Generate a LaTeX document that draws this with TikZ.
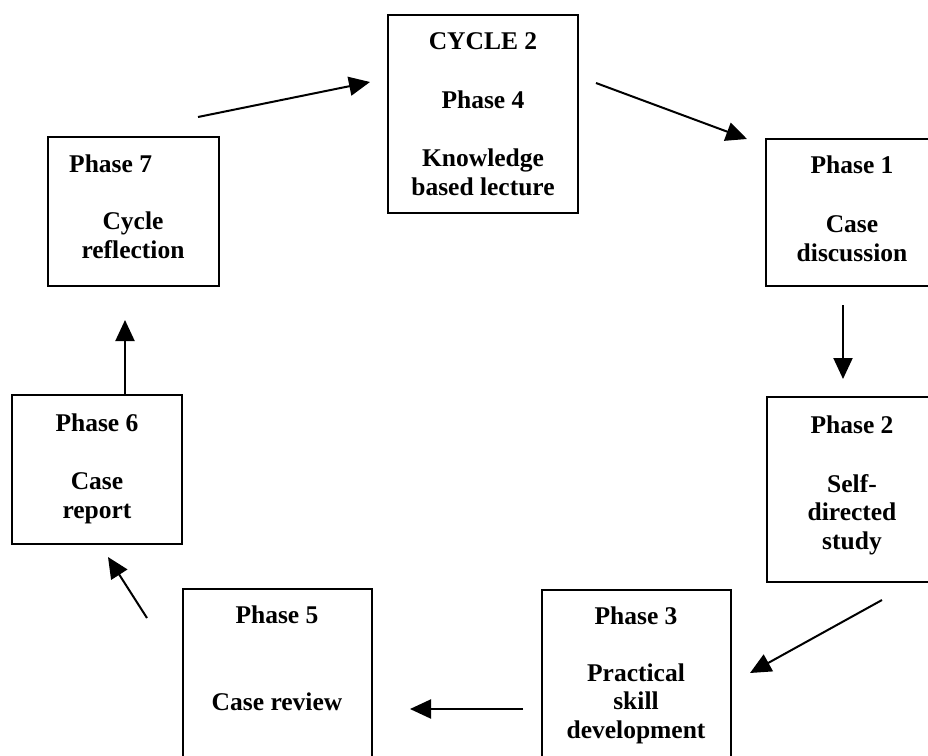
\documentclass[tikz,border=0pt]{standalone}
\usepackage{fontspec}
\setmainfont{Liberation Serif}
\usetikzlibrary{arrows.meta}
\begin{document}
\begin{tikzpicture}[x=1pt,y=-1pt,
  phasebox/.style={draw, line width=1.8pt, inner sep=0pt},
  phasetext/.style={font=\bfseries\fontsize{25.5}{28.5}\selectfont, align=center, anchor=base, inner sep=0pt},
  flow/.style={line width=2pt, -{Triangle[length=21pt,width=19pt]}}]
\useasboundingbox (0,0) rectangle (928,755);
\fill[white] (0,0) rectangle (928,755);
\clip (0,0) rectangle (928,755);

% phase boxes
\node[phasebox, minimum width=190pt, minimum height=198pt] (b4) at (483,114) {};
\node[phasebox, minimum width=172pt, minimum height=147pt] (b1) at (852,212.5) {};
\node[phasebox, minimum width=170pt, minimum height=185pt] (b2) at (852,489.5) {};
\node[phasebox, minimum width=189pt, minimum height=185pt] (b3) at (636.5,682.5) {};
\node[phasebox, minimum width=189pt, minimum height=186pt] (b5) at (277.5,682) {};
\node[phasebox, minimum width=170pt, minimum height=149pt] (b6) at (97,469.5) {};
\node[phasebox, minimum width=171pt, minimum height=149pt] (b7) at (133.5,211.5) {};

% box texts (multi-line texts are placed by the baseline of their last line)
\node[phasetext] (t4a) at (483,49) {CYCLE 2};
\node[phasetext] (t4b) at (483,108) {Phase 4};
\node[phasetext] (t4c) at (483,195) {Knowledge\\based lecture};

\node[phasetext] (t1a) at (852,173) {Phase 1};
\node[phasetext] (t1b) at (852,261) {Case\\discussion};

\node[phasetext] (t2a) at (852,433) {Phase 2};
\node[phasetext] (t2b) at (852,549) {Self-\\directed\\study};

\node[phasetext] (t3a) at (636,624) {Phase 3};
\node[phasetext] (t3b) at (636,738) {Practical\\skill\\development};

\node[phasetext] (t5a) at (277,623) {Phase 5};
\node[phasetext] (t5b) at (277,710) {Case review};

\node[phasetext] (t6a) at (97,431) {Phase 6};
\node[phasetext] (t6b) at (97,518) {Case\\report};

\node[phasetext, anchor=base west] (t7a) at (69,172) {Phase 7};
\node[phasetext] (t7b) at (133,258) {Cycle\\reflection};

% arrow end points
\coordinate (a1s) at (198,117);  \coordinate (a1e) at (370,82);
\coordinate (a2s) at (596,83);   \coordinate (a2e) at (747,139);
\coordinate (a3s) at (843,305);  \coordinate (a3e) at (843,379);
\coordinate (a4s) at (882,600);  \coordinate (a4e) at (750,673);
\coordinate (a5s) at (523,709);  \coordinate (a5e) at (410,709);
\coordinate (a6s) at (147,618);  \coordinate (a6e) at (108,557);
\coordinate (a7s) at (125,395);  \coordinate (a7e) at (125,320);

% cycle arrows
\draw[flow] (a1s) -- (a1e);
\draw[flow] (a2s) -- (a2e);
\draw[flow] (a3s) -- (a3e);
\draw[flow] (a4s) -- (a4e);
\draw[flow] (a5s) -- (a5e);
\draw[flow] (a6s) -- (a6e);
\draw[flow] (a7s) -- (a7e);
\end{tikzpicture}
\end{document}
